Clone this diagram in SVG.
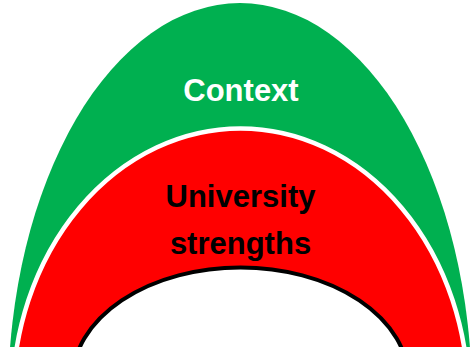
<svg xmlns="http://www.w3.org/2000/svg" width="471" height="347" viewBox="0 0 471 347">
  <style>
    .lbl { font-family: "Liberation Sans", Arial, sans-serif; font-weight: bold; font-size: 31px; text-anchor: middle; }
  </style>
  <rect width="471" height="347" fill="#FFFFFF"/>
  <g id="context">
    <ellipse cx="240" cy="400" rx="232" ry="397" fill="#00B050"/>
    <text class="lbl" x="241" y="101" fill="#FFFFFF">Context</text>
  </g>
  <g id="strengths">
    <ellipse cx="240.5" cy="400" rx="228" ry="271.5" fill="#FF0000" stroke="#FFFFFF" stroke-width="4.5"/>
    <text class="lbl" x="240.5" y="207" fill="#000000">University</text>
    <text class="lbl" x="240.5" y="254" fill="#000000">strengths</text>
  </g>
  <g id="core">
    <ellipse cx="240.5" cy="380" rx="168" ry="112.5" fill="#FFFFFF" stroke="#000000" stroke-width="4"/>
  </g>
</svg>
